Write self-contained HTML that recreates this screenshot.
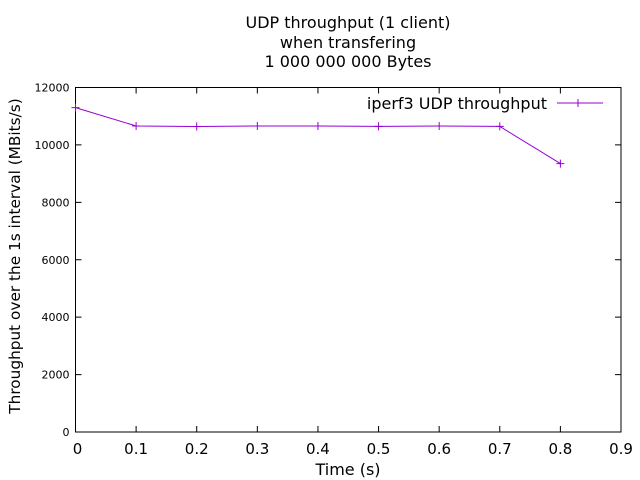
<!DOCTYPE html>
<html><head><meta charset="utf-8"><style>body{margin:0;background:#fff}svg{display:block}text{font-family:"DejaVu Sans","Liberation Sans",sans-serif}</style></head>
<body>
<svg id="c" width="640" height="480">
<g font-size="16" text-anchor="middle" fill="#000">
<text x="348" y="28">UDP throughput (1 client)</text>
<text x="348" y="48">when transfering</text>
<text x="348" y="67">1 000 000 000 Bytes</text>
</g>
<text x="348" y="475" font-size="16" text-anchor="middle">Time (s)</text>
<text transform="translate(20,256) rotate(-90)" font-size="15.3" text-anchor="middle">Throughput over the 1s interval (MBits/s)</text>
<g id="axes"></g>
<g id="marks"></g>
<g>
<text x="547" y="109" font-size="16" text-anchor="end">iperf3 UDP throughput</text>
<line x1="557" y1="103" x2="603" y2="103" stroke="#9400d3" stroke-width="1"/>
<path d="M578,99V107M574,103H582" stroke="#9400d3"/>
</g>
</svg>
<script>
const times=[0,0.1,0.2,0.3,0.4,0.5,0.6,0.7,0.8];
const throughput=[11300,10660,10640,10660,10660,10645,10660,10645,9350];
const xTicks=["0","0.1","0.2","0.3","0.4","0.5","0.6","0.7","0.8","0.9"];
const yTicks=[0,2000,4000,6000,8000,10000,12000];
const L=75.5,R=621,T=87.5,B=432;
const X=v=>L+v/0.9*(R-L), Y=v=>B-v/12000*(B-T);
const ns="http://www.w3.org/2000/svg";
function mk(p,t,a){const e=document.createElementNS(ns,t);for(const k in a)e.setAttribute(k,a[k]);p.appendChild(e);return e;}
const ax=document.getElementById('axes'),mg=document.getElementById('marks');
const fr=mk(ax,'rect',{x:L,y:T,width:R-L,height:B-T,fill:'none',stroke:'#000','stroke-width':1});


xTicks.forEach((t,i)=>{const x=X(i*0.1);
mk(ax,'path',{d:`M${x},${B}v-6M${x},${T}v6`,stroke:'#000'});
const e=mk(ax,'text',{x:x+(i==0?2:0),y:454,'font-size':15,'text-anchor':'middle'});e.textContent=t;

});
yTicks.forEach(v=>{const y=Y(v);
mk(ax,'path',{d:`M${L},${y}h6M${R},${y}h-6`,stroke:'#000'});
const e=mk(ax,'text',{x:L-6,y:y+4,'font-size':11,'text-anchor':'end'});e.textContent=v;

});
const pl=mk(mg,'polyline',{points:times.map((t,i)=>X(t)+','+Y(throughput[i])).join(' '),fill:'none',stroke:'#9400d3','stroke-width':1});


times.forEach((t,i)=>{const x=X(t),y=Y(throughput[i]);
const p=mk(mg,'path',{d:`M${x-4},${y}h8M${x},${y-4}v8`,stroke:'#9400d3'});

});
</script>
</body></html>
